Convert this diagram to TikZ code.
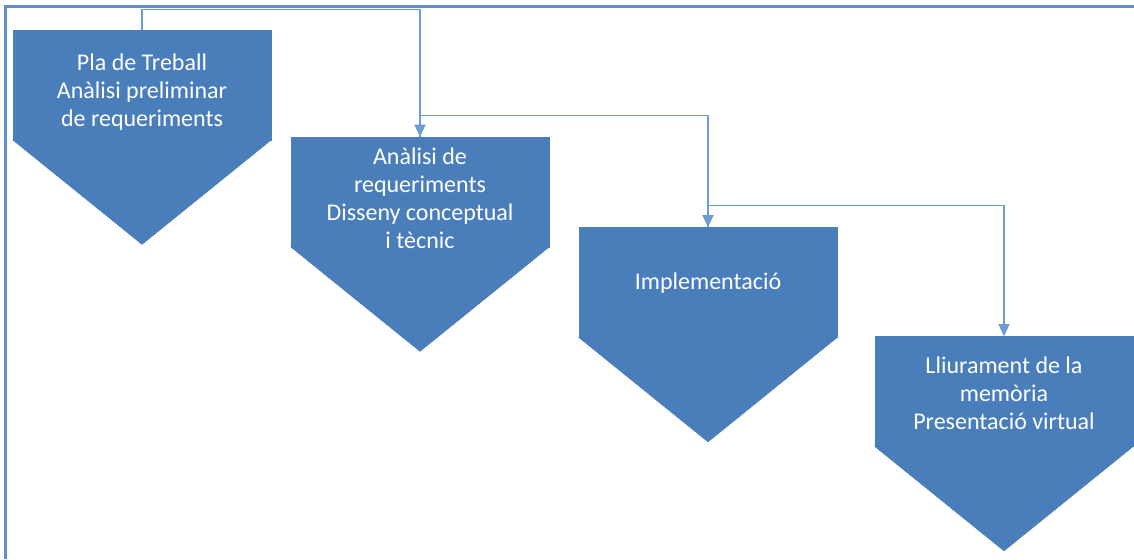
\documentclass[tikz,border=0pt]{standalone}
\usepackage{fontspec}
\setmainfont{Carlito}
\usetikzlibrary{arrows.meta,calc}
\definecolor{stepfill}{HTML}{4A7EBB}
\definecolor{connblue}{HTML}{6A9DD4}
\definecolor{frameblue}{HTML}{5B8FD0}
\tikzset{
  phase/.style={rectangle, fill=stepfill, draw=stepfill, line width=0.6pt,
    minimum width=258pt, minimum height=110pt, inner sep=0pt},
  phasetext/.style={inner sep=0pt, text=white, align=center,
    font=\fontsize{24}{28}\selectfont},
  conn/.style={draw=connblue, line width=1.4pt,
    -{Triangle[width=11pt,length=12pt]}},
  frameline/.style={draw=frameblue, line width=2.2pt}
}
\begin{document}
\begin{tikzpicture}[x=1pt,y=1pt]
\useasboundingbox (0,0) rectangle (1134,-559);
\fill[white] (0,0) rectangle (1134,-559);
% frame edges
\draw[frameline] (5.5,-559) -- (5.5,-6.5) -- (1134,-6.5);

% phases: rectangular body with a downward point
\node[phase] (s1) at (142,-85)    {};
\node[phase] (s2) at (420,-192)   {};
\node[phase] (s3) at (708,-282.5) {};
\node[phase] (s4) at (1004,-391.5){};
\foreach \s in {s1,s2,s3,s4}{
  \filldraw[fill=stepfill, draw=stepfill, line width=0.6pt, line join=round]
    ([yshift=0.5pt]\s.south west) -- ([yshift=0.5pt]\s.south east)
    -- ($(\s.south)+(0,-104)$) -- cycle;
}

% phase labels
\node[phasetext] (t1) at ([yshift=-7pt]s1.center) {Pla de Treball\\Anàlisi preliminar\\de requeriments};
\node[phasetext] (t2) at ([yshift=-6pt]s2.center) {Anàlisi de\\requeriments\\Disseny conceptual\\i tècnic};
\node[phasetext] (t3) at ([yshift=-1pt]s3.center) {Implementació};
\node[phasetext] (t4) at ([yshift=-2pt]s4.center) {Lliurament de la\\memòria\\Presentació virtual};

% connectors between phases
\draw[conn] (s1.north) -- ++(0,20) -| (s2.north);
\draw[conn] (s2.north) -- ++(0,21) -| (s3.north);
\draw[conn] (s3.north) -- ++(0,22) -| (s4.north);
\end{tikzpicture}
\end{document}
